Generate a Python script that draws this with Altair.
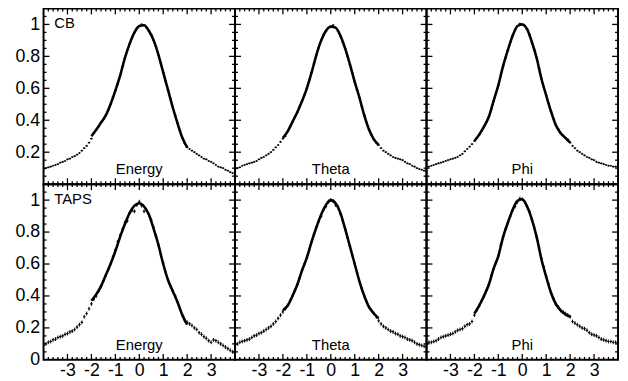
import altair as alt
import pandas as pd

# ---------------- data ----------------
x_pts = [round(-4.0 + 0.1 * i, 1) for i in range(81)]
curve_x = [round(-2.0 + 0.2 * i, 1) for i in range(21)]

cb_energy_pts = [0.095, 0.10, 0.105, 0.11, 0.115, 0.12, 0.125, 0.135, 0.14, 0.145,
                 0.155, 0.16, 0.17, 0.175, 0.185, 0.195, 0.21, 0.225, 0.24, 0.26,
                 0.285, 0.32, 0.34, 0.36, 0.385, 0.405, 0.43, 0.465, 0.50, 0.545,
                 0.585, 0.63, 0.68, 0.735, 0.79, 0.84, 0.88, 0.92, 0.95, 0.975,
                 0.99, 1.0, 0.995, 0.98, 0.96, 0.935, 0.90, 0.86, 0.81, 0.76,
                 0.70, 0.645, 0.59, 0.535, 0.48, 0.43, 0.38, 0.335, 0.29, 0.255,
                 0.23, 0.22, 0.21, 0.20, 0.19, 0.18, 0.17, 0.16, 0.155, 0.145,
                 0.14, 0.13, 0.12, 0.11, 0.105, 0.10, 0.09, 0.085, 0.075, 0.07, 0.06]
cb_theta_pts = [0.095, 0.10, 0.105, 0.115, 0.12, 0.125, 0.13, 0.135, 0.14, 0.145,
                0.155, 0.165, 0.17, 0.18, 0.19, 0.20, 0.215, 0.23, 0.245, 0.265,
                0.285, 0.30, 0.33, 0.36, 0.39, 0.42, 0.45, 0.485, 0.52, 0.56,
                0.60, 0.65, 0.70, 0.755, 0.81, 0.855, 0.90, 0.935, 0.96, 0.98,
                0.99, 0.995, 0.98, 0.96, 0.93, 0.89, 0.85, 0.80, 0.75, 0.695,
                0.64, 0.59, 0.54, 0.485, 0.43, 0.385, 0.34, 0.31, 0.28, 0.26,
                0.245, 0.225, 0.21, 0.20, 0.19, 0.18, 0.17, 0.165, 0.16, 0.155,
                0.15, 0.14, 0.13, 0.125, 0.115, 0.11, 0.10, 0.095, 0.09, 0.085, 0.08]
cb_phi_pts = [0.11, 0.11, 0.115, 0.12, 0.125, 0.13, 0.135, 0.14, 0.145, 0.15,
              0.155, 0.16, 0.165, 0.17, 0.18, 0.19, 0.205, 0.22, 0.235, 0.25,
              0.27, 0.29, 0.31, 0.335, 0.36, 0.39, 0.42, 0.47, 0.52, 0.57,
              0.62, 0.68, 0.74, 0.79, 0.84, 0.89, 0.93, 0.965, 0.99, 1.005,
              1.0, 0.99, 0.97, 0.935, 0.89, 0.84, 0.79, 0.725, 0.66, 0.61,
              0.555, 0.505, 0.455, 0.41, 0.37, 0.345, 0.32, 0.305, 0.29, 0.28,
              0.26, 0.24, 0.225, 0.21, 0.20, 0.19, 0.18, 0.17, 0.165, 0.155,
              0.15, 0.14, 0.135, 0.13, 0.125, 0.12, 0.115, 0.115, 0.11, 0.11, 0.105]
taps_energy_pts = [0.09, 0.10, 0.11, 0.115, 0.125, 0.13, 0.14, 0.145, 0.15, 0.16,
                   0.165, 0.175, 0.18, 0.19, 0.205, 0.22, 0.235, 0.27, 0.29, 0.32,
                   0.35, 0.38, 0.40, 0.43, 0.46, 0.495, 0.53, 0.565, 0.60, 0.645,
                   0.69, 0.74, 0.78, 0.82, 0.86, 0.87, 0.92, 0.935, 0.93, 0.97,
                   0.99, 0.965, 0.93, 0.935, 0.91, 0.875, 0.83, 0.775, 0.72, 0.66,
                   0.605, 0.55, 0.50, 0.465, 0.43, 0.40, 0.36, 0.32, 0.28, 0.245,
                   0.235, 0.225, 0.215, 0.20, 0.19, 0.17, 0.16, 0.145, 0.135, 0.12,
                   0.11, 0.125, 0.12, 0.11, 0.10, 0.09, 0.08, 0.07, 0.06, 0.05, 0.045]
taps_theta_pts = [0.095, 0.10, 0.11, 0.115, 0.12, 0.125, 0.13, 0.14, 0.15, 0.155,
                  0.165, 0.17, 0.18, 0.19, 0.20, 0.21, 0.225, 0.24, 0.26, 0.28,
                  0.30, 0.32, 0.34, 0.37, 0.40, 0.435, 0.47, 0.515, 0.56, 0.60,
                  0.64, 0.69, 0.74, 0.785, 0.83, 0.87, 0.90, 0.94, 0.96, 0.99,
                  1.0, 0.995, 0.97, 0.96, 0.915, 0.87, 0.82, 0.765, 0.71, 0.655,
                  0.60, 0.545, 0.49, 0.445, 0.40, 0.365, 0.33, 0.31, 0.29, 0.27,
                  0.245, 0.225, 0.21, 0.20, 0.19, 0.18, 0.175, 0.165, 0.16, 0.15,
                  0.145, 0.14, 0.13, 0.125, 0.12, 0.11, 0.10, 0.095, 0.09, 0.085, 0.08]
taps_phi_pts = [0.105, 0.11, 0.11, 0.115, 0.12, 0.13, 0.14, 0.145, 0.15, 0.155,
                0.16, 0.165, 0.175, 0.185, 0.19, 0.195, 0.21, 0.22, 0.225, 0.24,
                0.28, 0.31, 0.34, 0.37, 0.40, 0.435, 0.47, 0.525, 0.57, 0.61,
                0.65, 0.72, 0.77, 0.82, 0.86, 0.90, 0.94, 0.96, 0.99, 1.01,
                1.005, 0.99, 0.96, 0.93, 0.88, 0.83, 0.77, 0.70, 0.635, 0.58,
                0.525, 0.475, 0.42, 0.385, 0.35, 0.33, 0.31, 0.30, 0.29, 0.28,
                0.27, 0.24, 0.23, 0.22, 0.21, 0.20, 0.195, 0.185, 0.17, 0.16,
                0.155, 0.15, 0.14, 0.13, 0.125, 0.12, 0.115, 0.115, 0.11, 0.11, 0.105]

cb_energy_fit = [0.30, 0.34, 0.385, 0.43, 0.50, 0.585, 0.68, 0.79, 0.88, 0.95, 0.99,
                 0.995, 0.96, 0.90, 0.81, 0.70, 0.59, 0.48, 0.38, 0.29, 0.23]
cb_theta_fit = [0.29, 0.33, 0.39, 0.45, 0.52, 0.60, 0.70, 0.81, 0.90, 0.96, 0.985,
                0.98, 0.93, 0.85, 0.75, 0.64, 0.54, 0.43, 0.34, 0.28, 0.245]
cb_phi_fit = [0.27, 0.31, 0.36, 0.42, 0.52, 0.62, 0.74, 0.84, 0.93, 0.99, 1.0,
              0.97, 0.89, 0.79, 0.66, 0.555, 0.455, 0.37, 0.32, 0.29, 0.26]
taps_energy_fit = [0.37, 0.41, 0.46, 0.53, 0.60, 0.68, 0.77, 0.85, 0.92, 0.965, 0.98,
                   0.96, 0.91, 0.82, 0.72, 0.60, 0.50, 0.43, 0.36, 0.28, 0.22]
taps_theta_fit = [0.31, 0.34, 0.40, 0.47, 0.56, 0.64, 0.74, 0.83, 0.91, 0.97, 1.0,
                  0.98, 0.92, 0.82, 0.71, 0.60, 0.49, 0.40, 0.33, 0.29, 0.26]
taps_phi_fit = [0.29, 0.34, 0.40, 0.47, 0.57, 0.65, 0.77, 0.86, 0.94, 0.995, 1.005,
                0.96, 0.88, 0.77, 0.63, 0.52, 0.42, 0.35, 0.31, 0.285, 0.27]

row_labels = ["CB", "TAPS"]
col_labels = ["Energy", "Theta", "Phi"]
row_errors = [0.006, 0.012]

x_label_ticks = [-3, -2, -1, 0, 1, 2, 3]
y_label_ticks_top = [0.2, 0.4, 0.6, 0.8, 1]
y_label_ticks_bottom = [0, 0.2, 0.4, 0.6, 0.8, 1]
x_major = [-3, -2, -1, 0, 1, 2, 3]
x_minor = [round(-4 + 0.2 * i, 1) for i in range(41) if i % 5 != 0]
y_major = [0.2, 0.4, 0.6, 0.8, 1.0]
y_minor = [round(0.05 * i, 2) for i in range(23) if i % 4 != 0]

pts_grid = [[cb_energy_pts, cb_theta_pts, cb_phi_pts],
            [taps_energy_pts, taps_theta_pts, taps_phi_pts]]
fit_grid = [[cb_energy_fit, cb_theta_fit, cb_phi_fit],
            [taps_energy_fit, taps_theta_fit, taps_phi_fit]]

# ---------------- styling ----------------
W, H = 194, 178
FONT = "Liberation Sans"
MAJ, MIN = 6, 3
xs = alt.Scale(domain=[-4, 4], nice=False, zero=False)
ys = alt.Scale(domain=[0, 1.1], nice=False, zero=False)


def panel(r, c):
    if r == 1:
        xaxis = alt.Axis(orient="bottom", values=x_label_ticks, ticks=False, domain=False,
                         grid=False, title=None, labelFont=FONT, labelFontSize=18,
                         labelColor="black", labelPadding=2, labelFlush=False,
                         labelOverlap=False, labelExpr="toString(datum.value)")
    else:
        xaxis = None
    if c == 0:
        yaxis = alt.Axis(orient="left",
                         values=y_label_ticks_top if r == 0 else y_label_ticks_bottom,
                         ticks=False, domain=False, grid=False, title=None,
                         labelFont=FONT, labelFontSize=18, labelColor="black",
                         labelPadding=4, labelOverlap=False,
                         labelExpr="toString(datum.value)")
    else:
        yaxis = None

    def X(f):
        return alt.X(f, scale=xs, axis=xaxis)

    def Y(f):
        return alt.Y(f, scale=ys, axis=yaxis)

    df_p = pd.DataFrame({"x": x_pts, "y": pts_grid[r][c]})
    df_p["e"] = row_errors[r]
    df_c = pd.DataFrame({"x": curve_x, "y": fit_grid[r][c]})

    hbar = alt.Chart(df_p).transform_calculate(
        xa="datum.x - 0.05", xb="datum.x + 0.05"
    ).mark_rule(color="black", strokeWidth=1.2, clip=True).encode(
        x=X("xa:Q"), x2="xb:Q", y=Y("y:Q"))
    vbar = alt.Chart(df_p).transform_calculate(
        ya="datum.y - datum.e", yb="datum.y + datum.e"
    ).mark_rule(color="black", strokeWidth=1, clip=True).encode(
        x=X("x:Q"), y=Y("ya:Q"), y2="yb:Q")
    line = alt.Chart(df_c).mark_line(color="black", strokeWidth=2.6,
                                     interpolate="monotone", clip=True).encode(
        x=X("x:Q"), y=Y("y:Q"))
    name_df = pd.DataFrame({"x": [0.0], "y": [0.065 if r == 0 else 0.06],
                            "t": [col_labels[c]]})
    name = alt.Chart(name_df).mark_text(font=FONT, fontSize=15, color="black",
                                        align="center", baseline="alphabetic").encode(
        x=X("x:Q"), y=Y("y:Q"), text="t:N")
    layers = [hbar, vbar, line, name]
    if c == 0:
        rl_df = pd.DataFrame({"x": [-3.55], "y": [0.975], "t": [row_labels[r]]})
        layers.append(alt.Chart(rl_df).mark_text(font=FONT, fontSize=15, color="black",
                                                 align="left", baseline="alphabetic").encode(
            x=X("x:Q"), y=Y("y:Q"), text="t:N"))

    # inward tick marks on the four sides, placed through the scales
    def xticks(vals, size):
        d = pd.DataFrame({"v": vals})
        bottom = alt.Chart(d).mark_rule(color="black", strokeWidth=1.3).encode(
            x=X("v:Q"), y=alt.value(H), y2=alt.value(H - size))
        top = alt.Chart(d).mark_rule(color="black", strokeWidth=1.3).encode(
            x=X("v:Q"), y=alt.value(0), y2=alt.value(size))
        return [bottom, top]

    def yticks(vals, size):
        d = pd.DataFrame({"v": vals})
        left = alt.Chart(d).mark_rule(color="black", strokeWidth=1.3).encode(
            y=Y("v:Q"), x=alt.value(0), x2=alt.value(size))
        right = alt.Chart(d).mark_rule(color="black", strokeWidth=1.3).encode(
            y=Y("v:Q"), x=alt.value(W), x2=alt.value(W - size))
        return [left, right]

    layers += xticks(x_major, MAJ) + xticks(x_minor, MIN)
    layers += yticks(y_major, MAJ) + yticks(y_minor, MIN)

    return alt.layer(*layers).properties(width=W, height=H)


panels = [panel(r, c) for r in range(2) for c in range(3)]
chart = alt.concat(*panels, columns=3, spacing=0, bounds="flush").properties(
    padding={"left": 5, "top": -4, "right": 0, "bottom": 0}
).configure_view(stroke="black", strokeWidth=2).configure_axis(grid=False)

chart.save("out.html", embed_options={"renderer": "svg", "actions": False})
